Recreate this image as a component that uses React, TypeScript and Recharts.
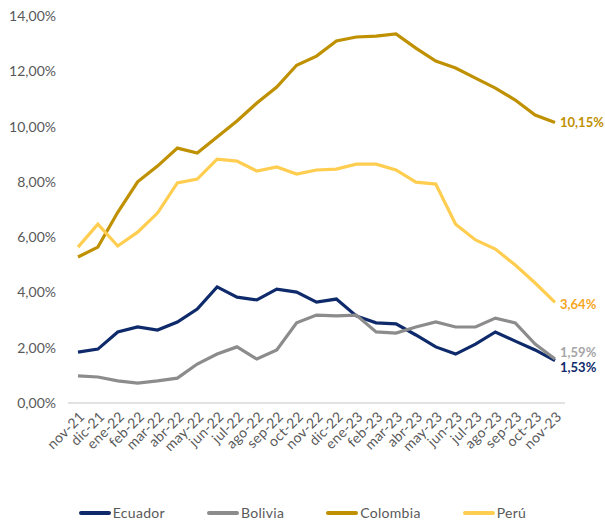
import React from "react";
import { LineChart, Line, XAxis, YAxis, ReferenceLine, LabelList } from "recharts";

const months = [
  "nov-21", "dic-21", "ene-22", "feb-22", "mar-22", "abr-22", "may-22", "jun-22", "jul-22",
  "ago-22", "sep-22", "oct-22", "nov-22", "dic-22", "ene-23", "feb-23", "mar-23", "abr-23",
  "may-23", "jun-23", "jul-23", "ago-23", "sep-23", "oct-23", "nov-23",
];

const ecuador = [
  1.84, 1.95, 2.57, 2.75, 2.64, 2.93, 3.4, 4.2, 3.83, 3.73, 4.12, 4.01, 3.65,
  3.76, 3.15, 2.9, 2.86, 2.46, 2.03, 1.77, 2.13, 2.57, 2.24, 1.92, 1.53,
];
const bolivia = [
  0.98, 0.94, 0.8, 0.72, 0.8, 0.9, 1.41, 1.77, 2.03, 1.59, 1.92, 2.9, 3.18,
  3.15, 3.18, 2.57, 2.53, 2.75, 2.93, 2.75, 2.75, 3.07, 2.9, 2.13, 1.59,
];
const colombia = [
  5.28, 5.64, 6.9, 8.0, 8.57, 9.22, 9.04, 9.62, 10.2, 10.85, 11.43, 12.22, 12.55,
  13.1, 13.24, 13.27, 13.35, 12.84, 12.37, 12.12, 11.75, 11.39, 10.96, 10.42, 10.15,
];
const peru = [
  5.64, 6.47, 5.68, 6.18, 6.87, 7.96, 8.1, 8.82, 8.75, 8.39, 8.54, 8.28, 8.43,
  8.46, 8.64, 8.64, 8.43, 7.99, 7.92, 6.47, 5.9, 5.57, 4.99, 4.34, 3.64,
];

const yTicks = [0, 2, 4, 6, 8, 10, 12, 14];

const series = [
  { key: "ecuador", name: "Ecuador", color: "#0E2A6B", labelColor: "#0E2A6B", dy: 6 },
  { key: "bolivia", name: "Bolivia", color: "#8C8C8C", labelColor: "#A6A6A6", dy: -7 },
  { key: "colombia", name: "Colombia", color: "#BF9000", labelColor: "#BF9000", dy: 0 },
  { key: "peru", name: "Perú", color: "#FFCD4F", labelColor: "#F5A623", dy: 2 },
];

const data = months.map((m, i) => ({
  month: m,
  ecuador: ecuador[i],
  bolivia: bolivia[i],
  colombia: colombia[i],
  peru: peru[i],
}));

const fmt = (v: number) => `${v.toFixed(2).replace(".", ",")}%`;
const FONT = "Lato, 'Open Sans', sans-serif";

const XTick = (props: any) => {
  const { x, y, payload } = props;
  return (
    <g transform={`translate(${x + 4},${y + 3})`}>
      <text
        textAnchor="end"
        transform="rotate(-45)"
        fontSize={14}
        letterSpacing={0.3}
        fill="#595959"
        fontFamily={FONT}
        dy={5}
      >
        {payload.value}
      </text>
    </g>
  );
};

const endLabel = (color: string, dy: number) => (props: any) => {
  const { x, y, value, index } = props;
  if (index !== months.length - 1) return null;
  return (
    <text
      x={x + 5}
      y={y + dy}
      dy={5}
      fill={color}
      fontSize={13}
      fontWeight="bold"
      fontFamily={FONT}
    >
      {fmt(value)}
    </text>
  );
};

export default function App() {
  return (
    <div style={{ position: "absolute", left: 0, top: 0, width: 605, height: 525, background: "#fff" }}>
      <LineChart
        width={605}
        height={525}
        data={data}
        margin={{ top: 16, right: 40, left: 0, bottom: 0 }}
      >
        <XAxis
          dataKey="month"
          interval={0}
          axisLine={false}
          tickLine={false}
          tick={<XTick />}
          height={122}
          padding={{ left: 10, right: 10 }}
        />
        <YAxis
          domain={[0, 14]}
          ticks={yTicks}
          tickFormatter={fmt}
          axisLine={false}
          tickLine={false}
          width={68}
          tickMargin={6}
          tick={{ fontSize: 14, fill: "#595959", fontFamily: FONT }}
        />
        <ReferenceLine y={0} stroke="#D9D9D9" strokeWidth={1.5} />
        {series.map((s) => (
          <Line
            key={s.key}
            dataKey={s.key}
            name={s.name}
            stroke={s.color}
            strokeWidth={3.2}
            dot={false}
            isAnimationActive={false}
          >
            <LabelList dataKey={s.key} content={endLabel(s.labelColor, s.dy)} />
          </Line>
        ))}
      </LineChart>
      <div
        style={{
          position: "absolute",
          top: 504,
          left: 0,
          width: 605,
          display: "flex",
          justifyContent: "center",
          gap: 42,
          fontFamily: FONT,
          fontSize: 14,
          letterSpacing: 0.3,
          color: "#595959",
        }}
      >
        {series.map((s) => (
          <div key={s.key} style={{ display: "flex", alignItems: "center" }}>
            <span style={{ display: "inline-block", width: 32, height: 4, borderRadius: 2, background: s.color, marginRight: 2 }} />
            <span>{s.name}</span>
          </div>
        ))}
      </div>
    </div>
  );
}
